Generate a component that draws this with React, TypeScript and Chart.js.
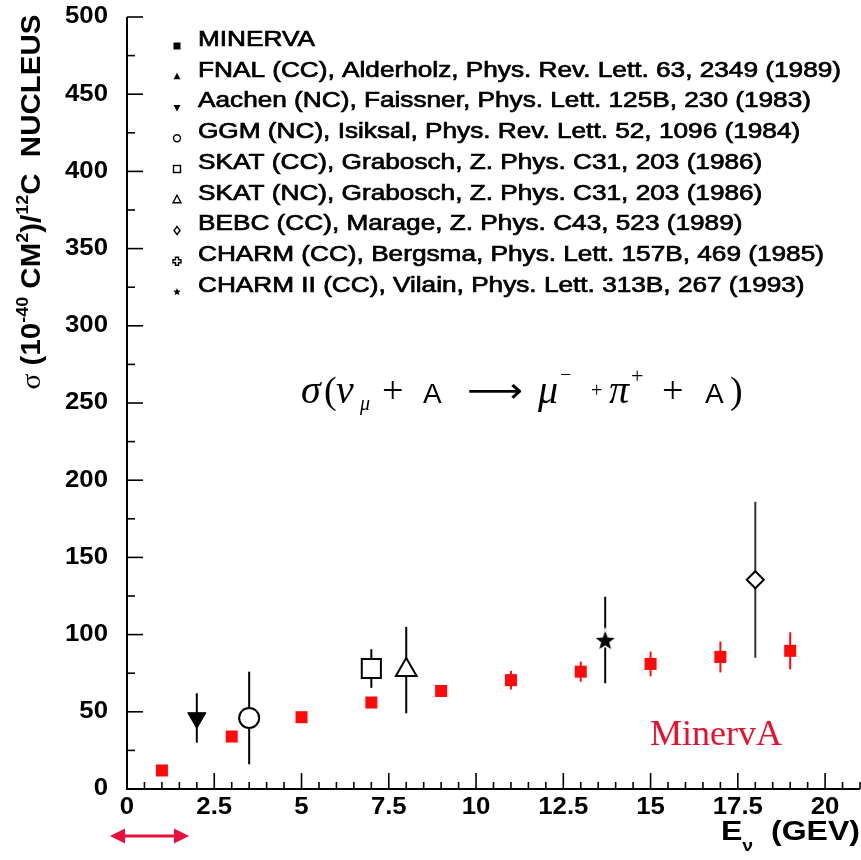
import React, { useEffect, useRef } from 'react';
import { Chart, registerables } from 'chart.js';

Chart.register(...registerables);

// ---------------- data ----------------
const minervaE = [1, 3, 5, 7, 9, 11, 13, 15, 17, 19];
const minervaSigma = [12, 34, 46.5, 56, 63.5, 70.5, 76, 81, 85.5, 89.5];
const minervaErr = [2, 2.5, 3, 3, 3, 6, 6.5, 8, 10, 12];

const fnalE: number[] = [];
const fnalSigma: number[] = [];
const fnalErr: number[] = [];

const aachenE = [2];
const aachenSigma = [46];
const aachenErr = [16];

const ggmE = [3.5];
const ggmSigma = [46];
const ggmErr = [30];

const skatCCE = [7];
const skatCCSigma = [78];
const skatCCErr = [12.5];

const skatNCE = [8];
const skatNCSigma = [77];
const skatNCErr = [28];

const bebcE = [18];
const bebcSigma = [135.5];
const bebcErr = [50.5];

const charmE: number[] = [];
const charmSigma: number[] = [];
const charmErr: number[] = [];

const charm2E = [13.7];
const charm2Sigma = [96.5];
const charm2Err = [28];

const legendLabels = [
  'MINERVA',
  'FNAL (CC), Alderholz, Phys. Rev. Lett. 63, 2349 (1989)',
  'Aachen (NC), Faissner, Phys. Lett. 125B, 230 (1983)',
  'GGM (NC), Isiksal, Phys. Rev. Lett. 52, 1096 (1984)',
  'SKAT (CC), Grabosch, Z. Phys. C31, 203 (1986)',
  'SKAT (NC), Grabosch, Z. Phys. C31, 203 (1986)',
  'BEBC (CC), Marage, Z. Phys. C43, 523 (1989)',
  'CHARM (CC), Bergsma, Phys. Lett. 157B, 469 (1985)',
  'CHARM II (CC), Vilain, Phys. Lett. 313B, 267 (1993)',
];
const legendMarkers = ['sqFill', 'triUp', 'triDown', 'circ', 'sq', 'triOpen', 'diam', 'cross', 'star'];

const xTickValues = [0, 2.5, 5, 7.5, 10, 12.5, 15, 17.5, 20];
const xTickLabels = ['0', '2.5', '5', '7.5', '10', '12.5', '15', '17.5', '20'];
const yTickValues = [0, 50, 100, 150, 200, 250, 300, 350, 400, 450, 500];
const yTickLabels = ['0', '50', '100', '150', '200', '250', '300', '350', '400', '450', '500'];

const X_MIN = 0, X_MAX = 21, X_MINOR = 0.5;
const Y_MIN = 0, Y_MAX = 500, Y_MINOR = 25;

const RED = '#ff0a0a';

const pts = (xs: number[], ys: number[]) => xs.map((x, i) => ({ x, y: ys[i] }));

function makeStar(size: number) {
  const c = document.createElement('canvas');
  c.width = size; c.height = size;
  const g = c.getContext('2d')!;
  const cx = size / 2, cy = size / 2 + 1, R = size / 2 - 3, r = R * 0.42;
  g.beginPath();
  for (let i = 0; i < 10; i++) {
    const a = -Math.PI / 2 + (i * Math.PI) / 5;
    const rr = i % 2 ? r : R;
    g.lineTo(cx + rr * Math.cos(a), cy + rr * Math.sin(a));
  }
  g.closePath();
  g.lineWidth = 3; g.strokeStyle = '#fff'; g.stroke();
  g.fillStyle = '#000'; g.fill();
  return c;
}

function drawMarker(ctx: CanvasRenderingContext2D, kind: string, x: number, y: number) {
  ctx.save();
  ctx.fillStyle = '#000'; ctx.strokeStyle = '#000'; ctx.lineWidth = 1.4;
  const s = 3.5;
  ctx.beginPath();
  switch (kind) {
    case 'sqFill': ctx.fillRect(x - 3.5, y - 3.5, 7, 7); break;
    case 'triUp': ctx.moveTo(x, y - 4); ctx.lineTo(x + 3.5, y + 2.5); ctx.lineTo(x - 3.5, y + 2.5); ctx.closePath(); ctx.fill(); break;
    case 'triDown': ctx.moveTo(x, y + 4); ctx.lineTo(x + 3.5, y - 2.5); ctx.lineTo(x - 3.5, y - 2.5); ctx.closePath(); ctx.fill(); break;
    case 'circ': ctx.arc(x, y, s, 0, Math.PI * 2); ctx.stroke(); break;
    case 'sq': ctx.strokeRect(x - s, y - s, 2 * s, 2 * s); break;
    case 'triOpen': ctx.moveTo(x, y - 4.5); ctx.lineTo(x + 4, y + 3); ctx.lineTo(x - 4, y + 3); ctx.closePath(); ctx.stroke(); break;
    case 'diam': ctx.moveTo(x, y - 4); ctx.lineTo(x + 3, y); ctx.lineTo(x, y + 4); ctx.lineTo(x - 3, y); ctx.closePath(); ctx.stroke(); break;
    case 'cross': {
      const a = 1.5, b = 4;
      ctx.moveTo(x - a, y - b); ctx.lineTo(x + a, y - b); ctx.lineTo(x + a, y - a); ctx.lineTo(x + b, y - a);
      ctx.lineTo(x + b, y + a); ctx.lineTo(x + a, y + a); ctx.lineTo(x + a, y + b); ctx.lineTo(x - a, y + b);
      ctx.lineTo(x - a, y + a); ctx.lineTo(x - b, y + a); ctx.lineTo(x - b, y - a); ctx.lineTo(x - a, y - a);
      ctx.closePath(); ctx.stroke(); break;
    }
    case 'star': {
      for (let i = 0; i < 10; i++) {
        const a = -Math.PI / 2 + (i * Math.PI) / 5;
        const rr = i % 2 ? 1.7 : 4;
        ctx.lineTo(x + rr * Math.cos(a), y + rr * Math.sin(a));
      }
      ctx.closePath(); ctx.fill(); break;
    }
  }
  ctx.restore();
}

type Seg = { t: string; f: string; dx?: number; dy?: number };
function drawRich(ctx: CanvasRenderingContext2D, segs: Seg[], x: number, y: number) {
  let cx = x;
  for (const s of segs) {
    ctx.font = s.f;
    ctx.fillText(s.t, cx + (s.dx || 0), y + (s.dy || 0));
    cx += ctx.measureText(s.t).width + (s.dx || 0);
  }
}
function richWidth(ctx: CanvasRenderingContext2D, segs: Seg[]) {
  let w = 0;
  for (const s of segs) { ctx.font = s.f; w += ctx.measureText(s.t).width + (s.dx || 0); }
  return w;
}

// draws text horizontally stretched by sx, anchored according to align
function stretchText(ctx: CanvasRenderingContext2D, t: string, x: number, y: number, sx: number, align: 'left' | 'right' | 'center', strokeW = 0) {
  const w = ctx.measureText(t).width * sx;
  const left = align === 'left' ? x : align === 'right' ? x - w : x - w / 2;
  ctx.save();
  ctx.textAlign = 'left';
  ctx.translate(left, y);
  ctx.scale(sx, 1);
  ctx.fillText(t, 0, 0);
  if (strokeW > 0) {
    ctx.lineWidth = strokeW;
    ctx.strokeStyle = ctx.fillStyle as string;
    ctx.strokeText(t, 0, 0);
  }
  ctx.restore();
}

const SANS = "'Liberation Sans', Arial, sans-serif";
const SERIF = "'Liberation Serif', 'Times New Roman', serif";

const decorPlugin = {
  id: 'decor',
  beforeDatasetsDraw(chart: any) {
    const { ctx, chartArea: ca, scales } = chart;
    const xs = scales.x, ys = scales.y;
    ctx.save();
    ctx.strokeStyle = '#000';
    ctx.lineWidth = 2;
    ctx.beginPath();
    ctx.moveTo(ca.left, ca.top); ctx.lineTo(ca.left, ca.bottom); ctx.lineTo(ca.right, ca.bottom);
    ctx.stroke();
    ctx.lineWidth = 1.6;
    for (let v = X_MIN; v <= X_MAX + 1e-6; v += X_MINOR) {
      const px = xs.getPixelForValue(v);
      const major = Math.abs(v / 2.5 - Math.round(v / 2.5)) < 1e-6;
      ctx.beginPath(); ctx.moveTo(px, ca.bottom); ctx.lineTo(px, ca.bottom - (major ? 16 : 7)); ctx.stroke();
    }
    for (let v = Y_MIN; v <= Y_MAX + 1e-6; v += Y_MINOR) {
      const py = ys.getPixelForValue(v);
      const major = v % 50 === 0;
      ctx.beginPath(); ctx.moveTo(ca.left, py); ctx.lineTo(ca.left + (major ? 16 : 8), py); ctx.stroke();
    }
    chart.data.datasets.forEach((ds: any) => {
      if (!ds.errs) return;
      ctx.strokeStyle = ds.errColor; ctx.lineWidth = 2;
      ds.data.forEach((p: any, i: number) => {
        const px = xs.getPixelForValue(p.x);
        ctx.beginPath();
        ctx.moveTo(px, ys.getPixelForValue(p.y - ds.errs[i]));
        ctx.lineTo(px, ys.getPixelForValue(p.y + ds.errs[i]));
        ctx.stroke();
      });
    });
    ctx.restore();
  },
  afterDatasetsDraw(chart: any) {
    const { ctx, scales } = chart;
    const xs = scales.x, ys = scales.y;
    ctx.save();
    ctx.fillStyle = '#000';
    // tick labels
    ctx.font = `bold 23px ${SANS}`;
    ctx.textBaseline = 'middle';
    yTickValues.forEach((v, i) => stretchText(ctx, yTickLabels[i], 108, ys.getPixelForValue(v), 1.12, 'right'));
    xTickValues.forEach((v, i) => stretchText(ctx, xTickLabels[i], xs.getPixelForValue(v), 808, 1.12, 'center'));

    // legend
    ctx.font = `21.5px ${SANS}`;
    const sxL = 643 / ctx.measureText(legendLabels[1]).width;
    legendLabels.forEach((lab, i) => {
      const ry = 40 + i * 30.75;
      ctx.fillStyle = '#000';
      stretchText(ctx, lab, 198, ry, sxL, 'left', 0.7);
      drawMarker(ctx, legendMarkers[i], 177, ry + 6);
    });

    // y title (rotated)
    ctx.textBaseline = 'alphabetic';
    ctx.textAlign = 'left';
    const ySegs: Seg[] = [
      { t: 'σ', f: `28px ${SERIF}` },
      { t: ' (10', f: `bold 28px ${SANS}` },
      { t: '-40', f: `bold 17px ${SANS}`, dy: -12 },
      { t: ' CM', f: `bold 28px ${SANS}` },
      { t: '2', f: `bold 17px ${SANS}`, dy: -12 },
      { t: ')/', f: `bold 28px ${SANS}` },
      { t: '12', f: `bold 17px ${SANS}`, dy: -12 },
      { t: 'C  NUCLEUS', f: `bold 28px ${SANS}` },
    ];
    const yw = richWidth(ctx, ySegs);
    const yLen = 375;
    ctx.save();
    ctx.translate(40, 202);
    ctx.rotate(-Math.PI / 2);
    ctx.scale(yLen / yw, 1);
    drawRich(ctx, ySegs, -yw / 2, 0);
    ctx.restore();

    // x title (stretched to the reference's width)
    const xSegs: Seg[] = [
      { t: 'E', f: `bold 28px ${SANS}` },
      { t: 'ν', f: `bold 17px ${SANS}`, dy: 11 },
      { t: '  (GEV)', f: `bold 28px ${SANS}` },
    ];
    const xw = richWidth(ctx, xSegs);
    ctx.save();
    ctx.translate(721, 840);
    ctx.scale(139 / xw, 1);
    drawRich(ctx, xSegs, 0, 0);
    ctx.restore();

    // formula
    const put = (t: string, f: string, x: number, y: number) => { ctx.font = f; ctx.fillText(t, x, y); };
    const base = 403;
    const IT = `italic 40px ${SERIF}`;
    put('σ', IT, 301, base);
    put('(', `38px ${SERIF}`, 324, base);
    put('ν', IT, 336, base);
    put('μ', `italic 20px ${SERIF}`, 360, base + 7);
    put('+', `38px ${SERIF}`, 382, base);
    put('A', `28px ${SANS}`, 423, base);
    ctx.save();
    ctx.font = `34px 'DejaVu Sans'`;
    const aw = ctx.measureText('⟶').width;
    ctx.translate(467, base - 1);
    ctx.scale(56 / aw, 1);
    ctx.fillText('⟶', 0, 0);
    ctx.restore();
    put('μ', IT, 538, base);
    put('−', `20px ${SERIF}`, 560, base - 22);
    put('+', `20px ${SERIF}`, 591, base - 6);
    put('π', IT, 609, base);
    put('+', `22px ${SERIF}`, 631, base - 20);
    put('+', `38px ${SERIF}`, 662, base);
    put('A', `28px ${SANS}`, 705, base);
    put(')', `38px ${SERIF}`, 730, base);

    // MinervA label
    ctx.fillStyle = '#e8102c';
    ctx.font = `36px ${SERIF}`;
    ctx.fillText('MinervA', 650, 745);

    // red double arrow
    ctx.strokeStyle = '#e8103a';
    ctx.fillStyle = '#e8103a';
    ctx.lineWidth = 3;
    const ay = 836, ax1 = 110, ax2 = 189;
    ctx.beginPath(); ctx.moveTo(ax1 + 10, ay); ctx.lineTo(ax2 - 10, ay); ctx.stroke();
    ctx.beginPath(); ctx.moveTo(ax1, ay); ctx.lineTo(ax1 + 15, ay - 7.5); ctx.lineTo(ax1 + 15, ay + 7.5); ctx.closePath(); ctx.fill();
    ctx.beginPath(); ctx.moveTo(ax2, ay); ctx.lineTo(ax2 - 15, ay - 7.5); ctx.lineTo(ax2 - 15, ay + 7.5); ctx.closePath(); ctx.fill();
    ctx.restore();
  },
};

export default function App() {
  const ref = useRef<HTMLCanvasElement | null>(null);
  useEffect(() => {
    if (!ref.current) return;
    const star = makeStar(26);
    const open = { backgroundColor: '#fff', borderColor: '#000', borderWidth: 2 };
    const chart = new Chart(ref.current, {
      type: 'scatter',
      data: {
        datasets: [
          { label: legendLabels[0], data: pts(minervaE, minervaSigma), pointStyle: 'rect', pointRadius: 8.5, backgroundColor: RED, borderWidth: 0, errs: minervaErr, errColor: RED } as any,
          { label: legendLabels[1], data: pts(fnalE, fnalSigma), pointStyle: 'triangle', pointRadius: 10, backgroundColor: '#000', borderWidth: 0, errs: fnalErr, errColor: '#000' } as any,
          { label: legendLabels[2], data: pts(aachenE, aachenSigma), pointStyle: 'triangle', rotation: 180, pointRadius: 10.5, backgroundColor: '#000', borderColor: '#000', borderWidth: 1, errs: aachenErr, errColor: '#000' } as any,
          { label: legendLabels[3], data: pts(ggmE, ggmSigma), pointStyle: 'circle', pointRadius: 10, ...open, errs: ggmErr, errColor: '#000' } as any,
          { label: legendLabels[4], data: pts(skatCCE, skatCCSigma), pointStyle: 'rect', pointRadius: 13.5, ...open, errs: skatCCErr, errColor: '#000' } as any,
          { label: legendLabels[5], data: pts(skatNCE, skatNCSigma), pointStyle: 'triangle', pointRadius: 12, ...open, errs: skatNCErr, errColor: '#000' } as any,
          { label: legendLabels[6], data: pts(bebcE, bebcSigma), pointStyle: 'rectRot', pointRadius: 8.5, ...open, errs: bebcErr, errColor: '#333' } as any,
          { label: legendLabels[7], data: pts(charmE, charmSigma), pointStyle: 'crossRot', pointRadius: 8, ...open, errs: charmErr, errColor: '#000' } as any,
          { label: legendLabels[8], data: pts(charm2E, charm2Sigma), pointStyle: star, pointRadius: 13, errs: charm2Err, errColor: '#000' } as any,
        ],
      },
      options: {
        animation: false,
        responsive: false,
        events: [],
        layout: { autoPadding: false, padding: { left: 127, right: 1, top: 17, bottom: 71 } },
        plugins: { legend: { display: false }, tooltip: { enabled: false }, title: { display: false } },
        scales: {
          x: { type: 'linear', min: X_MIN, max: X_MAX, display: false },
          y: { type: 'linear', min: Y_MIN, max: Y_MAX, display: false },
        },
      },
      plugins: [decorPlugin],
    });
    return () => chart.destroy();
  }, []);
  return (
    <div style={{ position: 'absolute', left: 0, top: 0, width: 861, height: 860, background: '#fff' }}>
      <canvas ref={ref} width={861} height={860} style={{ display: 'block', width: 861, height: 860 }} />
    </div>
  );
}
